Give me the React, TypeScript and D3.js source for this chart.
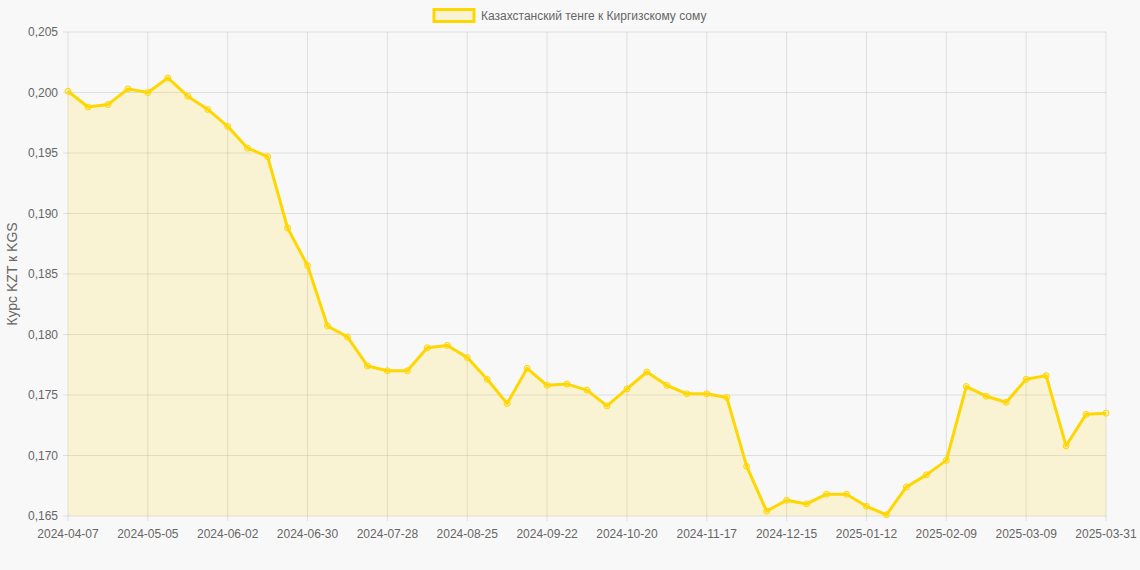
import React from "react";
import * as d3 from "d3";

const dates: string[] = [
  "2024-04-07","2024-04-14","2024-04-21","2024-04-28","2024-05-05","2024-05-12","2024-05-19","2024-05-26",
  "2024-06-02","2024-06-09","2024-06-16","2024-06-23","2024-06-30","2024-07-07","2024-07-14","2024-07-21",
  "2024-07-28","2024-08-04","2024-08-11","2024-08-18","2024-08-25","2024-09-01","2024-09-08","2024-09-15",
  "2024-09-22","2024-09-29","2024-10-06","2024-10-13","2024-10-20","2024-10-27","2024-11-03","2024-11-10",
  "2024-11-17","2024-11-24","2024-12-01","2024-12-08","2024-12-15","2024-12-22","2024-12-29","2025-01-05",
  "2025-01-12","2025-01-19","2025-01-26","2025-02-02","2025-02-09","2025-02-16","2025-02-23","2025-03-02",
  "2025-03-09","2025-03-16","2025-03-23","2025-03-30","2025-03-31",
];

const rates: number[] = [
  0.2001, 0.1988, 0.1990, 0.2003, 0.2000, 0.2012, 0.1997, 0.1986,
  0.1972, 0.1954, 0.1947, 0.1888, 0.1857, 0.1807, 0.1798, 0.1774,
  0.1770, 0.1770, 0.1789, 0.1791, 0.1781, 0.1763, 0.1743, 0.1772,
  0.1758, 0.1759, 0.1754, 0.1741, 0.1755, 0.1769, 0.1758, 0.1751,
  0.1751, 0.1748, 0.1691, 0.1654, 0.1663, 0.1660, 0.1668, 0.1668,
  0.1658, 0.1651, 0.1674, 0.1684, 0.1696, 0.1757, 0.1749, 0.1744,
  0.1763, 0.1766, 0.1708, 0.1734, 0.1735,
];

const yTicks: number[] = [0.165, 0.17, 0.175, 0.18, 0.185, 0.19, 0.195, 0.2, 0.205];
const xTickLabels: string[] = dates.filter((_, i) => i % 4 === 0);

const seriesName = "Казахстанский тенге к Киргизскому сому";
const yTitle = "Курс KZT к KGS";

const W = 1140;
const H = 570;
const left = 68;
const right = 1106;
const top = 32;
const bottom = 516;

const lineColor = "#FFD700";
const fillColor = "rgba(255, 215, 0, 0.15)";
const gridColor = "rgba(0, 0, 0, 0.1)";
const textColor = "#666";
const font = "'Liberation Sans', Arial, Helvetica, sans-serif";

export default function App() {
  const x = d3.scalePoint<string>().domain(dates).range([left, right]);
  const y = d3.scaleLinear().domain([0.165, 0.205]).range([bottom, top]);
  const data = dates.map((d, i) => ({ d, v: rates[i] }));

  const line = d3
    .line<{ d: string; v: number }>()
    .x((p) => x(p.d) as number)
    .y((p) => y(p.v));
  const area = d3
    .area<{ d: string; v: number }>()
    .x((p) => x(p.d) as number)
    .y0(bottom)
    .y1((p) => y(p.v));

  const fmt = (v: number) => d3.format(".3f")(v).replace(".", ",");

  return (
    <svg
      width={W}
      height={H}
      style={{ position: "absolute", left: 0, top: 0, display: "block" }}
      fontFamily={font}
    >
      <rect x={0} y={0} width={W} height={H} fill="#f8f8f8" />

      {yTicks.map((t) => (
        <g key={"y" + t}>
          <line x1={left - 5} x2={right} y1={y(t)} y2={y(t)} stroke={gridColor} strokeWidth={1} />
          <text
            x={left - 10}
            y={y(t)}
            dy="0.35em"
            textAnchor="end"
            fontSize={12}
            fill={textColor}
          >
            {fmt(t)}
          </text>
        </g>
      ))}

      {dates.map((d, i) =>
        i % 4 === 0 ? (
          <line
            key={"vx" + d}
            x1={x(d)}
            x2={x(d)}
            y1={top}
            y2={bottom + 5}
            stroke={gridColor}
            strokeWidth={1}
          />
        ) : null
      )}

      {xTickLabels.map((d) => (
        <text
          key={"xl" + d}
          x={x(d)}
          y={bottom + 18}
          dy="0.35em"
          textAnchor="middle"
          fontSize={12}
          fill={textColor}
        >
          {d}
        </text>
      ))}

      <text
        transform={`translate(12, ${(top + bottom) / 2}) rotate(-90)`}
        textAnchor="middle"
        dy="0.35em"
        fontSize={14}
        fill={textColor}
      >
        {yTitle}
      </text>

      <path d={area(data) || ""} fill={fillColor} stroke="none" />
      <path d={line(data) || ""} fill="none" stroke={lineColor} strokeWidth={3} strokeLinejoin="round" />
      {data.map((p) => (
        <circle
          key={"pt" + p.d}
          cx={x(p.d)}
          cy={y(p.v)}
          r={3}
          fill="rgba(255, 215, 0, 0.2)"
          stroke={lineColor}
          strokeWidth={1}
        />
      ))}

      <rect x={434} y={9.5} width={40} height={12} fill={fillColor} stroke={lineColor} strokeWidth={3} />
      <text x={481} y={15.5} dy="0.35em" fontSize={12} fill={textColor}>
        {seriesName}
      </text>
    </svg>
  );
}
